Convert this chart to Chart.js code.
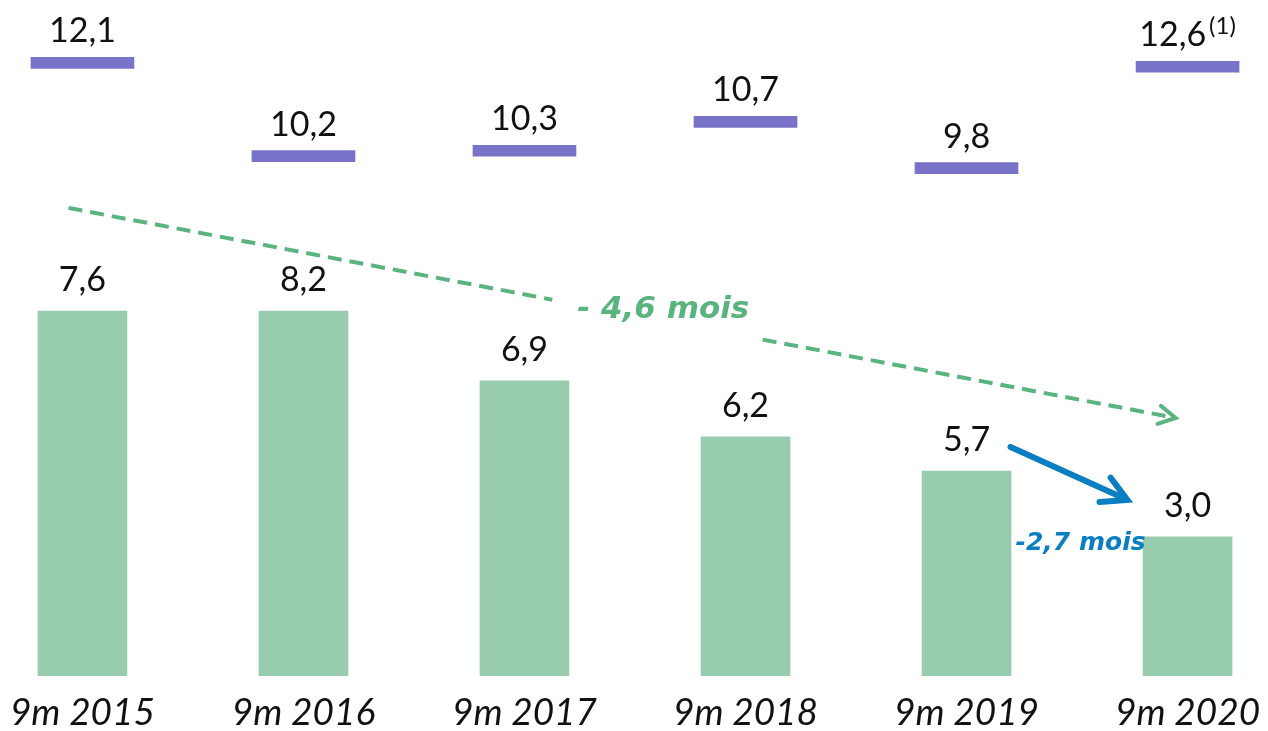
<!DOCTYPE html>
<html>
<head>
<meta charset="utf-8">
<script src="https://cdn.jsdelivr.net/npm/chart.js@4.4.1/dist/chart.umd.min.js"></script>
<style>
    html, body { margin: 0; padding: 0; background: #fff; }
    #wrap { width: 1268px; height: 731px; }
</style>
</head>
<body>
<div id="wrap"><canvas id="chart"></canvas></div>
<script>
// Categories and values (bars on the slide are not drawn to scale, so heights are read off the picture)
var categories = ['9m 2015', '9m 2016', '9m 2017', '9m 2018', '9m 2019', '9m 2020'];
var stockLabels = ['7,6', '8,2', '6,9', '6,2', '5,7', '3,0'];
var stockHeights = [7.6, 7.6, 6.15, 4.98, 4.27, 2.9];
var marketLabels = ['12,1', '10,2', '10,3', '10,7', '9,8', '12,6'];
var marketLevels = [12.77, 10.83, 10.94, 11.54, 10.58, 12.69];
var marketNote = ['', '', '', '', '', '(1)'];

var GREEN = '#97cdae';
var PURPLE = '#7873c8';
var ARROW_GREEN = '#5ab47f';
var BLUE = '#0a7ec2';

// annotation anchors, in axis units
var longTrend = { from: [-0.063, 9.75], to: [4.946, 5.375], gapFrom: 0.437, gapTo: 0.627, text: '- 4,6 mois', at: [2.628, 7.625] };
var shortTrend = { from: [4.199, 4.77], to: [4.728, 3.667], text: '-2,7 mois', at: [4.516, 2.77] };

function drawHead(ctx, x1, y1, x2, y2, len) {
    var a = Math.atan2(y2 - y1, x2 - x1);
    ctx.beginPath();
    ctx.moveTo(x2 - len * Math.cos(a - 0.5), y2 - len * Math.sin(a - 0.5));
    ctx.lineTo(x2, y2);
    ctx.lineTo(x2 - len * Math.cos(a + 0.5), y2 - len * Math.sin(a + 0.5));
    ctx.stroke();
}

var labelPlugin = {
    id: 'slideLabels',
    afterDatasetsDraw: function(chart) {
        var ctx = chart.ctx;
        var xs = chart.scales.x, ys = chart.scales.y;
        ctx.save();
        ctx.fillStyle = '#111';
        ctx.textBaseline = 'alphabetic';

        ctx.font = '34px Lato';
        ctx.textAlign = 'center';
        chart.getDatasetMeta(0).data.forEach(function(bar, i) {
            ctx.fillText(stockLabels[i], bar.x, bar.y - 20);
        });

        chart.getDatasetMeta(1).data.forEach(function(bar, i) {
            var top = Math.min(bar.y, bar.base) - 15;
            ctx.font = '34px Lato';
            var w1 = ctx.measureText(marketLabels[i]).width;
            ctx.font = '24px Lato';
            var w2 = marketNote[i] ? ctx.measureText(marketNote[i]).width + 3 : 0;
            var left = bar.x - (w1 + w2) / 2;
            ctx.textAlign = 'left';
            ctx.font = '34px Lato';
            ctx.fillText(marketLabels[i], left, top);
            if (marketNote[i]) {
                ctx.font = '24px Lato';
                ctx.fillText(marketNote[i], left + w1 + 3, top - 12);
            }
        });

        // long dashed trend arrow
        var x1 = xs.getPixelForValue(longTrend.from[0]), y1 = ys.getPixelForValue(longTrend.from[1]);
        var x2 = xs.getPixelForValue(longTrend.to[0]), y2 = ys.getPixelForValue(longTrend.to[1]);
        ctx.strokeStyle = ARROW_GREEN;
        ctx.lineWidth = 4;
        ctx.setLineDash([14, 8]);
        ctx.beginPath();
        ctx.moveTo(x1, y1);
        ctx.lineTo(x1 + (x2 - x1) * longTrend.gapFrom, y1 + (y2 - y1) * longTrend.gapFrom);
        ctx.moveTo(x1 + (x2 - x1) * longTrend.gapTo, y1 + (y2 - y1) * longTrend.gapTo);
        ctx.lineTo(x2, y2);
        ctx.stroke();
        ctx.setLineDash([]);
        ctx.lineCap = 'round';
        drawHead(ctx, x1, y1, x2, y2, 19);
        ctx.fillStyle = ARROW_GREEN;
        ctx.textAlign = 'center';
        ctx.textBaseline = 'middle';
        ctx.font = 'italic bold 31px "DejaVu Sans"';
        ctx.fillText(longTrend.text, xs.getPixelForValue(longTrend.at[0]), ys.getPixelForValue(longTrend.at[1]));

        // short solid arrow
        x1 = xs.getPixelForValue(shortTrend.from[0]); y1 = ys.getPixelForValue(shortTrend.from[1]);
        x2 = xs.getPixelForValue(shortTrend.to[0]); y2 = ys.getPixelForValue(shortTrend.to[1]);
        ctx.strokeStyle = BLUE;
        ctx.lineWidth = 6;
        ctx.beginPath();
        ctx.moveTo(x1, y1);
        ctx.lineTo(x2 - 3, y2 - 1.5);
        ctx.stroke();
        drawHead(ctx, x1, y1, x2, y2, 28);
        ctx.fillStyle = BLUE;
        ctx.font = 'italic bold 25px "DejaVu Sans"';
        ctx.fillText(shortTrend.text, xs.getPixelForValue(shortTrend.at[0]), ys.getPixelForValue(shortTrend.at[1]));

        ctx.restore();
    }
};

var ctx = document.getElementById('chart');
new Chart(ctx, {
    type: 'bar',
    data: {
        datasets: [
            {
                label: 'Stock',
                data: stockHeights.map(function(v, i) { return { x: i, y: v }; }),
                backgroundColor: GREEN,
                barThickness: 89,
                grouped: false
            },
            {
                label: 'Marché',
                data: marketLevels.map(function(v, i) { return { x: i, y: [v - 0.115, v + 0.115] }; }),
                backgroundColor: PURPLE,
                barThickness: 103,
                grouped: false
            }
        ]
    },
    options: {
        responsive: true,
        maintainAspectRatio: false,
        animation: false,
        layout: { padding: 0 },
        plugins: {
            legend: { display: false },
            tooltip: { enabled: false }
        },
        scales: {
            x: {
                type: 'linear',
                offset: false,
                bounds: 'data',
                min: -0.373,
                max: 5.364,
                grid: { display: false, drawTicks: false },
                border: { display: false },
                afterBuildTicks: function(scale) {
                    scale.ticks = categories.map(function(c, i) { return { value: i }; });
                },
                afterFit: function(scale) { scale.height = 55; },
                ticks: {
                    autoSkip: false,
                    maxRotation: 0,
                    padding: 5,
                    color: '#111',
                    font: { family: 'Lato', size: 37, style: 'italic', lineHeight: 1.74 },
                    callback: function(value) {
                        return categories[value];
                    }
                }
            },
            y: {
                display: false,
                min: 0,
                max: 14.08
            }
        }
    },
    plugins: [labelPlugin]
});
</script>
</body>
</html>
